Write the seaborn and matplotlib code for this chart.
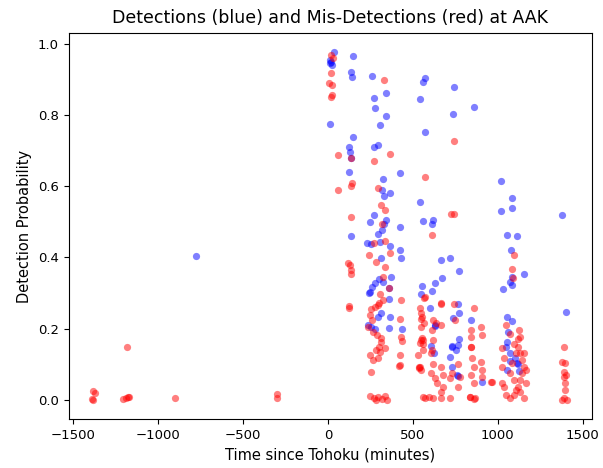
import matplotlib
matplotlib.use("Agg")
import matplotlib.pyplot as plt
import seaborn as sns
import pandas as pd

# Detections (blue)
det_time = [34, 20, 10, 25, 15, 148, 138, 143, 258, 343, 270, 278, 343, 309, 13, 569, 561, 543, 569,
            148, 125, 133, 138, 270, 293, 125, 325, 423, 321, 331, 366, 543, 270, 249, 340, 333, 427,
            557, 616, 614, 744, 857, 738, 1018, 1081, 1085, 1018, 1380,
            138, 296, 319, 233, 256, 309, 364, 423, 429, 315, 665, 720, -774, 1056, 1115, 1075,
            370, 362, 299, 276, 262, 246, 240, 325, 361, 555, 545, 610, 629, 669, 773, 1081, 1071,
            1085, 1152, 1032, 315, 296, 237, 256, 276, 364, 362, 435, 600, 629, 606, 626, 763, 773,
            738, 845, 633, 773, 767, 728, 718, 728, 767, 757, 905, 1052, 1081, 1062, 1052, 1046,
            1071, 1101, 1111, 1052, 1401, 732, 755, 1073, 1118, 1125]
det_prob = [0.976, 0.95, 0.945, 0.94, 0.955, 0.966, 0.92, 0.908, 0.909, 0.861, 0.848, 0.82, 0.798, 0.772,
            0.775, 0.905, 0.892, 0.845, 0.753, 0.737, 0.71, 0.696, 0.68, 0.71, 0.715, 0.64, 0.621, 0.637,
            0.588, 0.572, 0.58, 0.556, 0.518, 0.5, 0.506, 0.495, 0.485, 0.502, 0.506, 0.495, 0.878, 0.823,
            0.803, 0.614, 0.567, 0.54, 0.529, 0.52,
            0.459, 0.465, 0.478, 0.439, 0.437, 0.443, 0.431, 0.422, 0.397, 0.399, 0.394, 0.399, 0.403,
            0.462, 0.46, 0.422, 0.344, 0.315, 0.338, 0.327, 0.317, 0.303, 0.299, 0.332, 0.284, 0.319,
            0.297, 0.306, 0.327, 0.341, 0.361, 0.345, 0.331, 0.322, 0.352, 0.31, 0.245, 0.232, 0.21,
            0.205, 0.2, 0.232, 0.202, 0.2, 0.257, 0.207, 0.151, 0.131, 0.268, 0.245, 0.229, 0.224,
            0.21, 0.17, 0.154, 0.151, 0.121, 0.093, 0.068, 0.07, 0.051, 0.233, 0.221, 0.189, 0.163,
            0.149, 0.131, 0.117, 0.103, 0.084, 0.247, 0.149, 0.14, 0.11, 0.1, 0.08]

# Mis-detections (red)
mis_time = [17, 30, 21, 7, 25, 17, 22, 331, 138, 364, 60, 270, 569, 62, 140, 138, 296, 311, 337, 134,
            722, 317, 744, 740,
            614, 272, 335, 368, 243, 284, 335, 119, 133, 134, 138, 325, 362, 123, 125, 429, 309, 567,
            325, 292, 276, 256, 302, 250, 260, 237, 423, 266, 290, 311, 315, 299, 286, 433, 437, 246,
            266, 296, 305, 335, 423, 419, 256, 246, 272, 296, 335, 345, 285, 320,
            541, 551, 567, 547, 620, 610, 639, 665, 551, 561, 541, 616, 614, 531, 541, 535,
            539, 545, 557, 607, 618, 607, 630, 641, 664, 675, 675, 664, 720, 732, 766, 777, 766,
            720, 664, 573, 595, 618, 561, 425,
            845, 850, 857, 845, 857, 902, 909, 909, 964, 834, 864,
            1027, 1039, 1027, 1027, 1039, 1050, 1073, 1095, 1118, 1130, 1141, 1152, 1141, 1130,
            1118, 1123, 1118, 1050, 1073, 1095, 1107, 1084, 1073, 1095, 1107, 1152, 1130, 1164,
            1164, 1152, 1130, 545, 550, 550, 561, 573,
            1095, 1081, 1087, 665, 744, 859, 747, 842, 845, 900, 905, 840, 665, 959, 836, 861,
            1392, 1380, 1396, 1390, 1387, 1396, 1396, 1387, 1407, 1380, 1400,
            -1384, -1368, -1388, -1380, -1185, -1207, -1191, -1177, -1168, -899, -298, -298]
mis_prob = [0.969, 0.96, 0.917, 0.889, 0.884, 0.85, 0.855, 0.897, 0.68, 0.69, 0.688, 0.67, 0.625, 0.588,
            0.609, 0.6, 0.596, 0.546, 0.534, 0.513, 0.523, 0.495, 0.727, 0.523,
            0.462, 0.439, 0.446, 0.413, 0.408, 0.387, 0.373, 0.385, 0.378, 0.364, 0.352, 0.345, 0.315,
            0.262, 0.258, 0.28, 0.297, 0.285, 0.28, 0.266, 0.26, 0.254, 0.273, 0.238, 0.224, 0.205,
            0.226, 0.191, 0.182, 0.173, 0.163, 0.149, 0.14, 0.177, 0.165, 0.126, 0.112, 0.117, 0.135,
            0.145, 0.126, 0.096, 0.079, 0.011, 0.005, 0.009, 0.011, 0.0, 0.0, 0.003,
            0.257, 0.233, 0.217, 0.205, 0.224, 0.196, 0.215, 0.271, 0.173, 0.168, 0.159, 0.168, 0.14,
            0.126, 0.093, 0.089,
            0.093, 0.083, 0.14, 0.13, 0.1, 0.074, 0.06, 0.046, 0.093, 0.07, 0.037, 0.022, 0.06, 0.074,
            0.1, 0.065, 0.037, 0.004, 0.004, 0.004, 0.008, 0.004, 0.008, 0.097,
            0.149, 0.116, 0.093, 0.069, 0.046, 0.107, 0.083, 0.065, 0.05, 0.008, 0.004,
            0.144, 0.116, 0.093, 0.046, 0.037, 0.013, 0.004, 0.013, 0.037, 0.055, 0.074, 0.093, 0.111,
            0.13, 0.149, 0.196, 0.172, 0.21, 0.186, 0.158, 0.13, 0.102, 0.074, 0.055, 0.027, 0.004,
            0.022, 0.046, 0.083, 0.13, 0.177, 0.243, 0.228, 0.168, 0.158, 0.289,
            0.408, 0.366, 0.343, 0.269, 0.268, 0.259, 0.224, 0.196, 0.176, 0.205, 0.182, 0.149, 0.21,
            0.051, 0.009, 0.003,
            0.147, 0.107, 0.103, 0.079, 0.065, 0.047, 0.028, 0.005, 0.0, 0.0, 0.07,
            0.025, 0.019, 0.002, 0.0, 0.148, 0.002, 0.006, 0.009, 0.009, 0.006, 0.016, 0.006]

det = pd.DataFrame({"t": det_time, "p": det_prob})
mis = pd.DataFrame({"t": mis_time, "p": mis_prob})

fig = plt.figure(figsize=(6.03, 4.68), dpi=100)
ax = fig.add_axes([0.114, 0.104, 0.868, 0.826])
sns.scatterplot(data=det, x="t", y="p", color="blue", alpha=0.5, s=27, linewidth=0, ax=ax)
sns.scatterplot(data=mis, x="t", y="p", color="red", alpha=0.5, s=27, linewidth=0, ax=ax)
ax.set_xlim(-1525, 1555)
ax.set_ylim(-0.055, 1.031)
ax.set_xticks([-1500, -1000, -500, 0, 500, 1000, 1500])
ax.set_yticks([0.0, 0.2, 0.4, 0.6, 0.8, 1.0])
ax.tick_params(labelsize=9.5)
ax.set_xlabel("Time since Tohoku (minutes)", fontsize=10.5)
ax.set_ylabel("Detection Probability", fontsize=10.5)
ax.set_title("Detections (blue) and Mis-Detections (red) at AAK", fontsize=12.5, pad=7)
fig.savefig("out.png", dpi=100)
